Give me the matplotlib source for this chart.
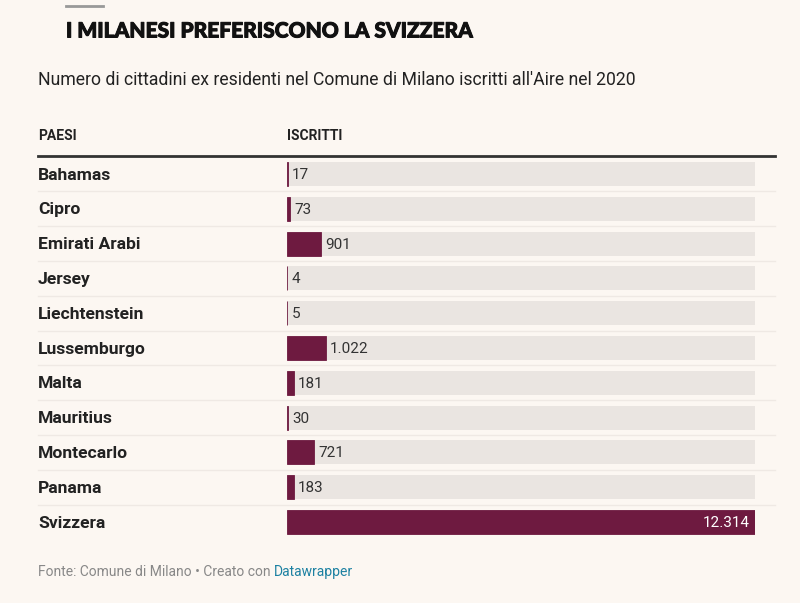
import matplotlib
matplotlib.use("Agg")
import matplotlib.pyplot as plt
import matplotlib.transforms as mtransforms
import matplotlib.patheffects as pe

countries = ["Bahamas", "Cipro", "Emirati Arabi", "Jersey", "Liechtenstein", "Lussemburgo",
             "Malta", "Mauritius", "Montecarlo", "Panama", "Svizzera"]
values = [17, 73, 901, 4, 5, 1022, 181, 30, 721, 183, 12314]
labels = ["17", "73", "901", "4", "5", "1.022", "181", "30", "721", "183", "12.314"]

BG = "#FCF7F2"
BAR = "#6E1A40"
TRACK = "#EAE5E1"

W, H = 800, 603
fig = plt.figure(figsize=(W / 100, H / 100), dpi=100, facecolor=BG)
plt.rcParams['font.family'] = ['Roboto', 'DejaVu Sans']

def fx(px):
    return px / W

def fy(py):
    return 1 - py / H

# axes for bars
top_px, bot_px = 156.6, 539.4
ax = fig.add_axes([fx(287), fy(bot_px), fx(755) - fx(287), (bot_px - top_px) / H])
ax.set_facecolor("none")
n = len(countries)
ax.set_xlim(0, max(values))
ax.set_ylim(n - 0.5, -0.5)
ax.axis("off")

ypos = list(range(n))
ax.barh(ypos, [max(values)] * n, height=0.69, color=TRACK, zorder=1)
ax.barh(ypos, values, height=0.69, color=BAR, zorder=2, linewidth=0.6, edgecolor=BAR)

for i, (v, lab) in enumerate(zip(values, labels)):
    if v == max(values):
        ax.annotate(lab, (v, i + 0.03), xytext=(-4, 0), textcoords="offset points",
                    ha="right", va="center", fontsize=11, color="white", zorder=3)
    else:
        ax.annotate(lab, (v, i + 0.03), xytext=(3, 0), textcoords="offset points",
                    ha="left", va="center", fontsize=11, color="#333333", zorder=3)

# country labels & separators
tr = mtransforms.blended_transform_factory(fig.transFigure, ax.transData)
for i, c in enumerate(countries):
    fig.text(fx(38), i + 0.03, c, transform=tr, ha="left", va="center",
             fontsize=12.6, fontweight="bold", color="#222222")
for i in range(n - 1):
    line = plt.Line2D([fx(38), fx(775)], [i + 0.5, i + 0.5], transform=tr,
                      color="#EFE9E4", linewidth=1, zorder=0)
    fig.add_artist(line)

# header
fig.add_artist(plt.Line2D([fx(38), fx(775)], [fy(156), fy(156)], color="#333333", linewidth=2))
fig.text(fx(38), fy(136), "PAESI", ha="left", va="center", fontsize=10, fontweight="bold", color="#222222")
fig.text(fx(287), fy(136), "ISCRITTI", ha="left", va="center", fontsize=10, fontweight="bold", color="#222222")

# title and subtitle
fig.add_artist(plt.Line2D([fx(66), fx(103)], [fy(6), fy(6)], color="#999999", linewidth=2))
fig.text(fx(66), fy(31), "I MILANESI PREFERISCONO LA SVIZZERA", ha="left", va="center",
         fontsize=15.1, fontweight=900, color="#111111", family=["Lato", "DejaVu Sans"],
         path_effects=[pe.withStroke(linewidth=0.7, foreground="#111111")])
fig.text(fx(38), fy(80), "Numero di cittadini ex residenti nel Comune di Milano iscritti all'Aire nel 2020",
         ha="left", va="center", fontsize=12.7, color="#222222")

# footer
t1 = fig.text(fx(38), fy(572), "Fonte: Comune di Milano • Creato con ", ha="left", va="center",
              fontsize=10, color="#888888")
fig.canvas.draw()
bb = t1.get_window_extent(renderer=fig.canvas.get_renderer())
fig.text(bb.x1 / (W), fy(572), "Datawrapper", ha="left", va="center",
         fontsize=10, color="#1D81A2")

fig.savefig("out.png", dpi=100, facecolor=BG)
